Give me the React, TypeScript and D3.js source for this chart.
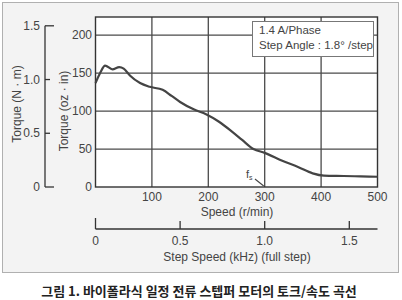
import React from "react";
import * as d3 from "d3";

const speedRpm = [0, 8, 17, 30, 42, 50, 61, 79, 96, 119, 135, 150, 175, 196, 219, 242, 260, 280, 300, 330, 360, 385, 405, 440, 470, 500];
const torqueOzIn = [137, 150, 160, 155, 158, 156, 147, 137, 132, 128, 120, 112, 102, 96, 86, 73, 62, 50, 45, 35, 26, 18, 15, 14.5, 14, 13.5];
const rpmTicks = [100, 200, 300, 400, 500];
const ozTicks = [0, 50, 100, 150, 200];
const nmTicks = [0, 0.5, 1.0, 1.5];
const khzTicks = [0, 0.5, 1.0, 1.5];
const legendLines = ["1.4 A/Phase", "Step Angle : 1.8° /step"];
const caption = "그림 1. 바이폴라식 일정 전류 스텝퍼 모터의 토크/속도 곡선";

const OZIN_PER_NM = 141.6;
const RPM_PER_KHZ = 300;

export default function App() {
  const W = 402, H = 300;
  const x = d3.scaleLinear().domain([0, 500]).range([95.5, 377.5]);
  const y = d3.scaleLinear().domain([0, 224]).range([187, 17]);
  const xk = (k: number) => x(k * RPM_PER_KHZ);
  const yn = (n: number) => y(n * OZIN_PER_NM);
  const line = d3
    .line<number>()
    .x((_, i) => x(speedRpm[i]))
    .y((d) => y(d))
    .curve(d3.curveMonotoneX);
  const font = "'Liberation Sans Narrow', 'Liberation Sans', Arial, sans-serif";
  const tc = "#444";
  const gc = "#4a4a4a";
  const nmX = 45;
  const axY = 229;
  return (
    <div style={{ position: "fixed", left: 0, top: 0 }}>
      <svg width={W} height={H} style={{ display: "block" }}>
        <rect x={0} y={0} width={W} height={H} fill="#ffffff" />
        <rect x={2.5} y={2.5} width={396} height={270} fill="#f3f3f3" stroke="#b0b0b0" strokeWidth={1} />
        <rect x={x(0)} y={y(224)} width={x(500) - x(0)} height={y(0) - y(224)} fill="#ffffff" />
        {ozTicks.filter((t) => t > 0).map((t) => (
          <line key={"h" + t} x1={x(0)} x2={x(500)} y1={y(t)} y2={y(t)} stroke={gc} strokeWidth={1.3} />
        ))}
        {rpmTicks.filter((t) => t < 500).map((t) => (
          <line key={"v" + t} x1={x(t)} x2={x(t)} y1={y(224)} y2={y(0)} stroke={gc} strokeWidth={1.3} />
        ))}
        <rect x={x(0)} y={y(224)} width={x(500) - x(0)} height={y(0) - y(224)} fill="none" stroke="#333" strokeWidth={1.4} />
        <path d={line(torqueOzIn) || ""} fill="none" stroke="#444" strokeWidth={2.2} strokeLinejoin="round" />
        <text x={246} y={178} fontFamily={font} fontSize={11} fill={tc}>
          f<tspan fontSize={7} dy={2}>s</tspan>
        </text>
        <line x1={255} y1={179} x2={x(300) - 1} y2={186} stroke="#444" strokeWidth={1.1} />
        <rect x={252.5} y={21.5} width={121} height={35} fill="#ffffff" stroke="#777" strokeWidth={1} />
        {legendLines.map((l, i) => (
          <text key={l} x={259} y={34 + i * 14.5} fontFamily={font} fontSize={11.5} fill={tc}>
            {l}
          </text>
        ))}
        {ozTicks.map((t) => (
          <text key={"oz" + t} x={92} y={y(t) + 4} textAnchor="end" fontFamily={font} fontSize={12} fill={tc}>
            {t}
          </text>
        ))}
        {rpmTicks.map((t) => (
          <text key={"r" + t} x={x(t)} y={201} textAnchor="middle" fontFamily={font} fontSize={12} fill={tc}>
            {t}
          </text>
        ))}
        <text x={237} y={216} textAnchor="middle" fontFamily={font} fontSize={12} fill={tc}>
          Speed (r/min)
        </text>
        <line x1={nmX} x2={nmX} y1={yn(1.5)} y2={yn(0)} stroke="#333" strokeWidth={1.3} />
        {nmTicks.map((t) => (
          <g key={"n" + t}>
            <line x1={nmX} x2={nmX + (t === 1.5 || t === 0 ? 9 : 5)} y1={yn(t)} y2={yn(t)} stroke="#333" strokeWidth={1.3} />
            <text x={nmX - 5} y={yn(t) + 4} textAnchor="end" fontFamily={font} fontSize={12} fill={tc}>
              {t === 0 ? "0" : t.toFixed(1)}
            </text>
          </g>
        ))}
        <text transform={`translate(21,104) rotate(-90)`} textAnchor="middle" fontFamily={font} fontSize={12} fill={tc}>
          Torque (N · m)
        </text>
        <text transform={`translate(68,111) rotate(-90)`} textAnchor="middle" fontFamily={font} fontSize={12} fill={tc}>
          Torque (oz · in)
        </text>
        <line x1={xk(0)} x2={x(500)} y1={axY} y2={axY} stroke="#333" strokeWidth={1.3} />
        {khzTicks.map((t) => (
          <g key={"k" + t}>
            <line x1={xk(t)} x2={xk(t)} y1={axY} y2={axY - (t === 0 ? 11 : 8)} stroke="#333" strokeWidth={1.3} />
            <text x={xk(t)} y={245} textAnchor="middle" fontFamily={font} fontSize={12} fill={tc}>
              {t === 0 ? "0" : t.toFixed(1)}
            </text>
          </g>
        ))}
        <text x={237} y={261} textAnchor="middle" fontFamily={font} fontSize={12} fill={tc}>
          Step Speed (kHz) (full step)
        </text>
        <text x={199} y={296} textAnchor="middle" fontFamily="'Noto Sans CJK KR', sans-serif" fontSize={13} fontWeight={700} fill="#222">
          {caption}
        </text>
      </svg>
    </div>
  );
}
